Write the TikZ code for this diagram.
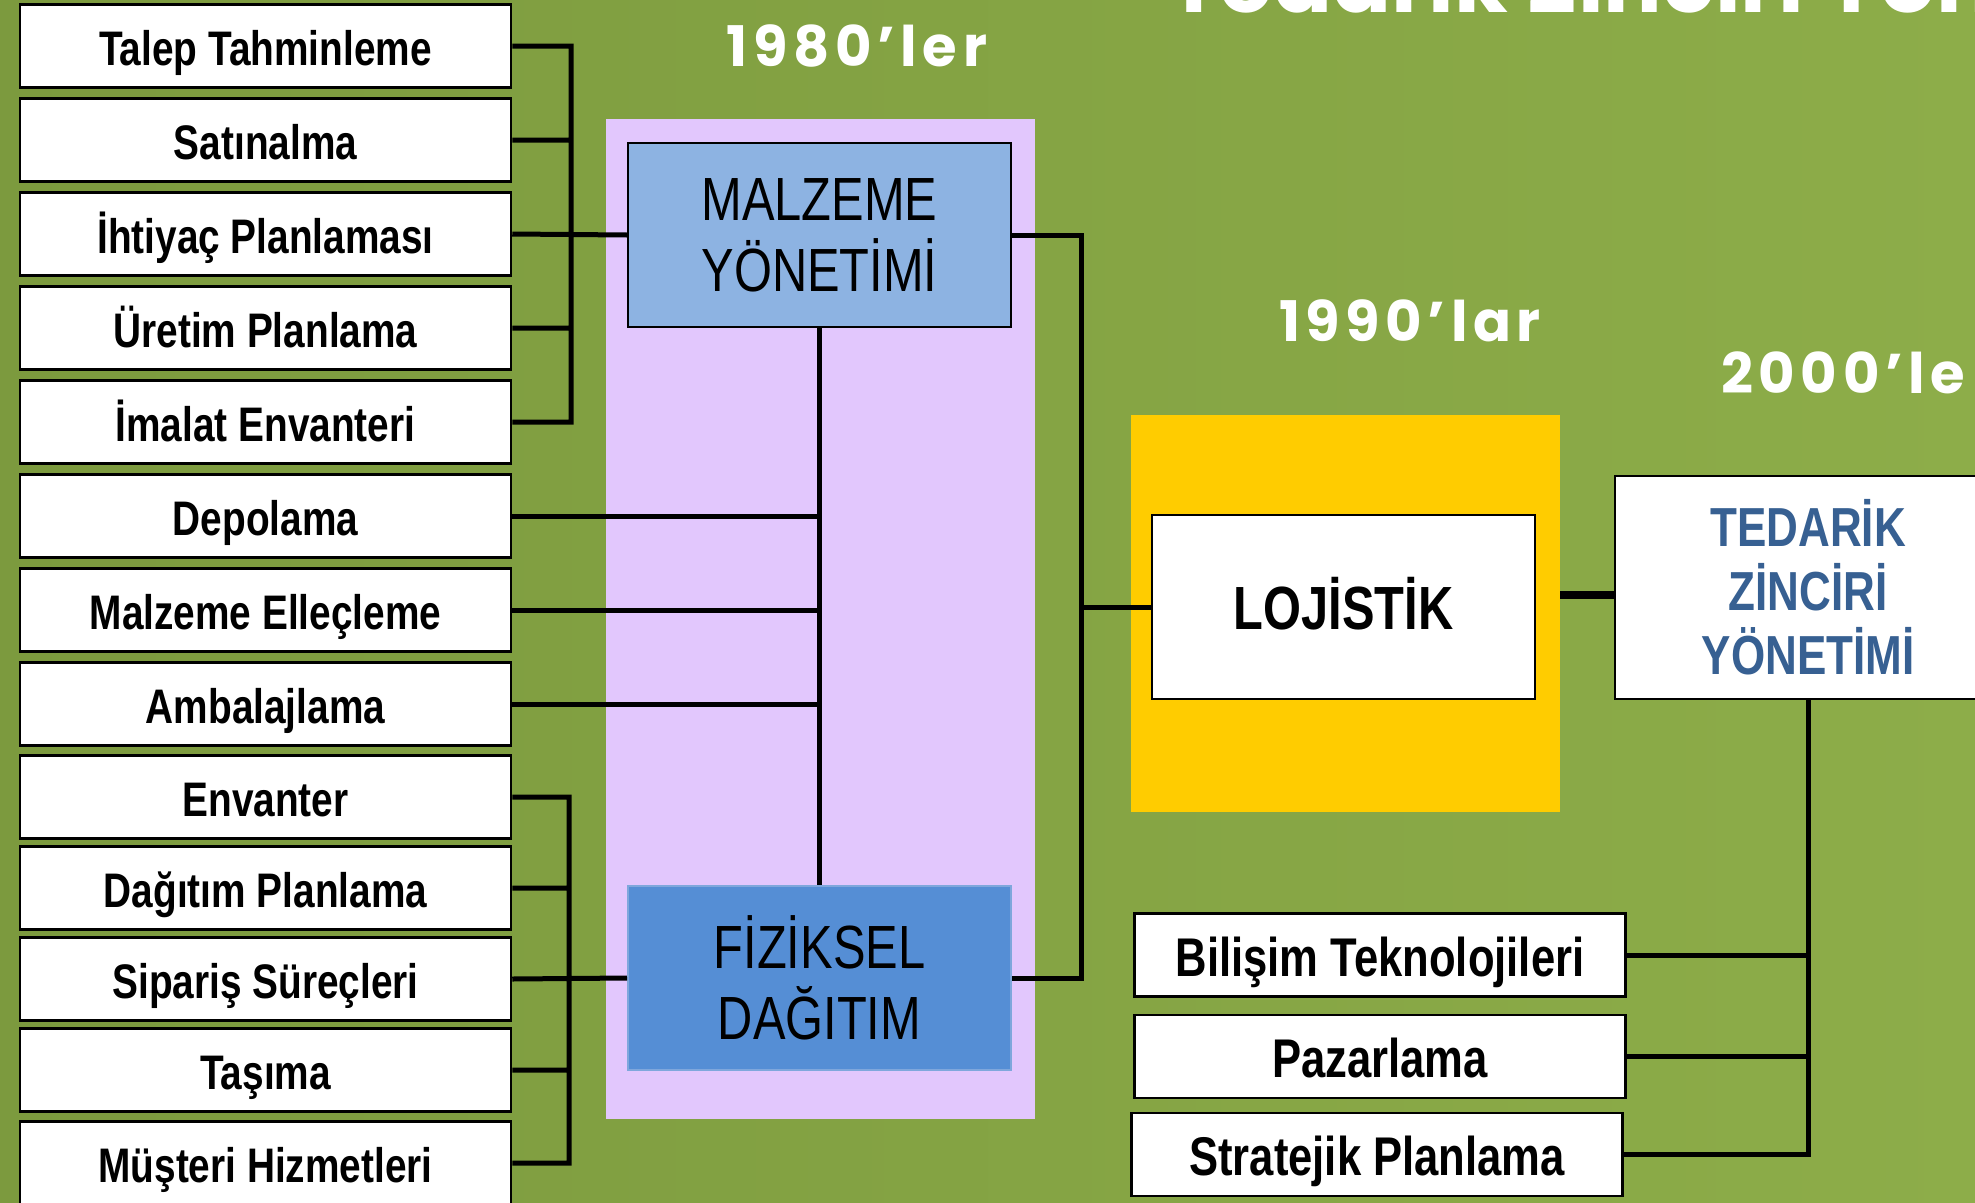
\documentclass[tikz,border=0pt]{standalone}
\usepackage{fontspec}
\setmainfont{Liberation Sans}
\newfontfamily\darfont[FakeStretch=0.8]{Liberation Sans}
\newfontfamily\yilfont[LetterSpace=10]{Poppins}
\newfontfamily\baslikfont{Poppins}
\usetikzlibrary{positioning}

\definecolor{yesilkoyu}{HTML}{7C9A3E}
\definecolor{yesilacik}{HTML}{8DAD49}
\definecolor{lila}{HTML}{E2C7FD}
\definecolor{mavi}{HTML}{8DB3E2}
\definecolor{koyumavi}{HTML}{558ED5}
\definecolor{kenarmavi}{HTML}{7FA7DC}
\definecolor{sari}{HTML}{FFCC00}
\definecolor{tzymavi}{HTML}{376092}

\begin{document}
\begin{tikzpicture}[x=1pt,y=-1pt,node distance=94pt,on grid,
   hat/.style={line width=5pt},
   kutu/.style={draw,line width=2.5pt,fill=white,inner sep=0pt,
      minimum width=491pt,minimum height=83pt,text height=39pt,text depth=0pt,
      font=\darfont\bfseries\fontsize{48.5}{50}\selectfont},
   genis/.style={kutu,text height=42pt,font=\darfont\bfseries\fontsize{54.5}{56}\selectfont},
   blok/.style={draw,line width=2pt,inner sep=0pt,minimum width=383pt,minimum height=184pt,
      align=center,font=\darfont\fontsize{61}{71}\selectfont},
   yil/.style={anchor=base,text=white,inner sep=0pt,font=\yilfont\bfseries\fontsize{56}{60}\selectfont}]

   % arka plan
   \useasboundingbox (0,0) rectangle (1975,1202);
   \clip (0,0) rectangle (1975,1202);
   \shade[left color=yesilkoyu,right color=yesilacik] (0,0) rectangle (1975,1202);
   \node[anchor=base west,text=white,inner sep=0pt,
      font=\baslikfont\bfseries\fontsize{87}{87}\selectfont] (baslik) at (1168,12) {Tedarik Zinciri Yönetimi};

   \node[fill=lila,minimum width=429pt,minimum height=1000pt,inner sep=0pt] (lilazemin) at (820.5,619) {};
   \node[fill=sari,minimum width=429pt,minimum height=397pt,inner sep=0pt] (sarizemin) at (1345.5,613.5) {};

   \node[yil] (y80) at (857,66) {1980’ler};
   \node[yil] (y90) at (1410,341) {1990’lar};
   \node[yil,anchor=base west] (y00) at (1721,393) {2000’le};

   % 1980'ler
   \node[kutu] (talep) at (265.5,46) {Talep Tahminleme};
   \node[kutu] (satin) [below=of talep] {Satınalma};
   \node[kutu] (ihtiyac) [below=of satin] {İhtiyaç Planlaması};
   \node[kutu] (uretim) [below=of ihtiyac] {Üretim Planlama};
   \node[kutu] (imalat) [below=of uretim] {İmalat Envanteri};
   \node[kutu] (depo) [below=of imalat] {Depolama};
   \node[kutu] (elleclem) [below=of depo] {Malzeme Elleçleme};
   \node[kutu] (ambalaj) [below=of elleclem] {Ambalajlama};
   \node[kutu] (envanter) [below=93pt of ambalaj] {Envanter};
   \node[kutu] (dagitim) [below=91pt of envanter] {Dağıtım Planlama};
   \node[kutu] (siparis) [below=91pt of dagitim] {Sipariş Süreçleri};
   \node[kutu] (tasima) [below=91pt of siparis] {Taşıma};
   \node[kutu] (musteri) [below=93pt of tasima] {Müşteri Hizmetleri};

   \node[blok,fill=mavi] (malz) at (819.5,235) {MALZEME\\YÖNETİMİ};
   \node[blok,fill=koyumavi,draw=kenarmavi] (fiz) at (819.5,978) {FİZİKSEL\\DAĞITIM};

   % 1990'lar
   \node[blok,fill=white,text height=44pt,text depth=0pt,
      font=\darfont\bfseries\fontsize{61}{61}\selectfont] (loj) at (1343.5,607) {LOJİSTİK};

   % 2000'ler
   \node[blok,fill=white,line width=2.5pt,minimum width=386pt,minimum height=223pt,text=tzymavi,
      font=\darfont\bfseries\fontsize{55}{64}\selectfont] (tzy) at (1808,587.5) {TEDARİK\\ZİNCİRİ\\YÖNETİMİ};
   \node[genis] (bilisim) at (1380,955) {Bilişim Teknolojileri};
   \node[genis] (pazar) [below=101.5pt of bilisim] {Pazarlama};
   \node[genis] (strateji) at (1377,1154.5) {Stratejik Planlama};

   \coordinate (ustkol) at (571,234);
   \coordinate (altkol) at (569,978);
   \coordinate (sagkol) at (1081,607);

   \draw[hat] (talep.east) -| (ustkol)
      (satin.east) -| (ustkol)
      (ihtiyac.east) -- (malz.west)
      (uretim.east) -| (ustkol)
      (imalat.east) -| (ustkol);
   \draw[hat] (envanter.east) -| (altkol)
      (dagitim.east) -| (altkol)
      (siparis.east) -- (fiz.west)
      (tasima.east) -| (altkol)
      (musteri.east) -| (altkol);
   \draw[hat] (malz.south) -- (fiz.north)
      (depo.east) -- (depo.east -| malz.south)
      (elleclem.east) -- (elleclem.east -| malz.south)
      (ambalaj.east) -- (ambalaj.east -| malz.south);
   \draw[hat] (malz.east) -| (sagkol)
      (fiz.east) -| (sagkol) -- (loj.west);
   \draw[line width=8pt] ([yshift=-7.5pt]tzy.west) -- ([yshift=-7.5pt]tzy.west -| sarizemin.east);
   \draw[hat] (tzy.south) |- (strateji.east)
      (bilisim.east) -- (bilisim.east -| tzy.south)
      (pazar.east) -- (pazar.east -| tzy.south);
\end{tikzpicture}
\end{document}
